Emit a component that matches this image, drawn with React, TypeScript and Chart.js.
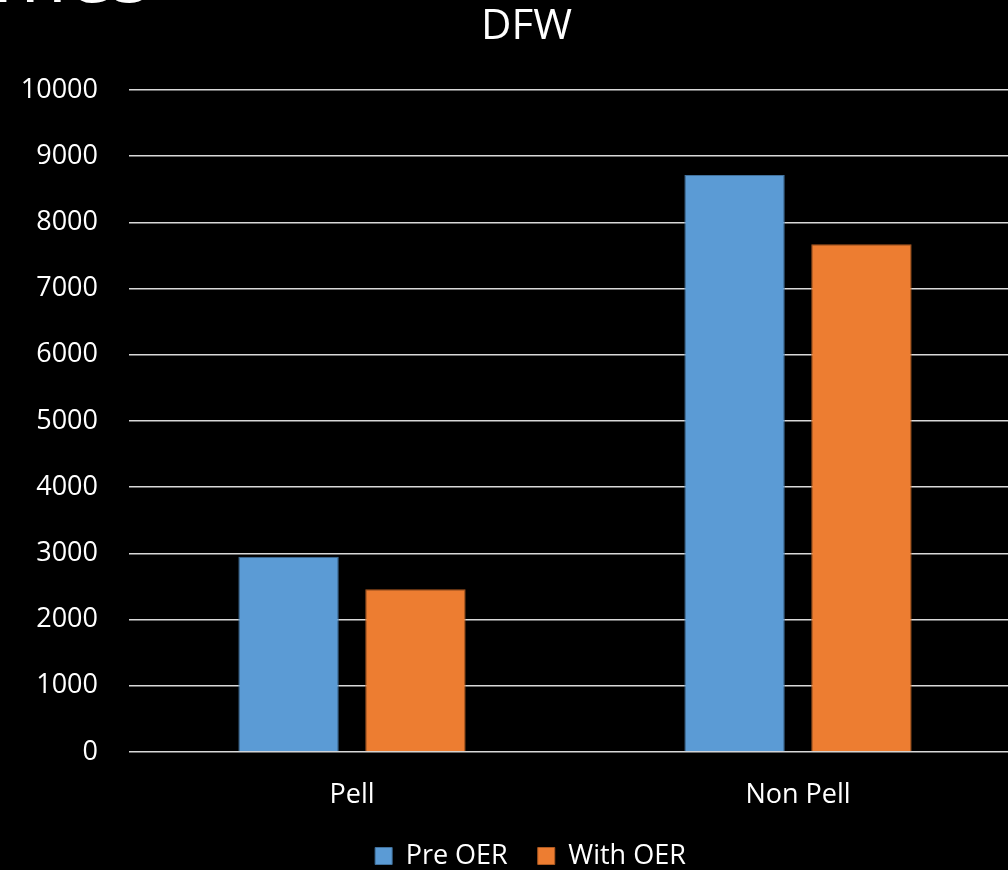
import React, { useEffect, useRef } from "react";
import { Chart, registerables } from "chart.js";

Chart.register(...registerables);

const categories = ["Pell", "Non Pell"];
const preOER = [2950, 8715];
const withOER = [2460, 7670];
const seriesNames = ["Pre OER", "With OER"];
const yTicks = [0, 1000, 2000, 3000, 4000, 5000, 6000, 7000, 8000, 9000, 10000];
const chartTitle = "DFW";
const slideTitleFragment = "Outcomes";

const FONT = "'Open Sans', 'Noto Sans', sans-serif";

// shifts the title and legend (the original chart was wider than the crop)
const shiftPlugin = {
  id: "shiftBoxes",
  afterLayout(chart: any) {
    const t = chart.titleBlock;
    if (t) {
      t.left += 16;
      t.right += 16;
    }
    const lg = chart.legend;
    if (lg) {
      const h = lg.height;
      lg.left += 20;
      lg.right += 20;
      lg.top = 812.5;
      lg.bottom = lg.top + h;
    }
  },
};

export default function App() {
  const ref = useRef<HTMLCanvasElement | null>(null);

  useEffect(() => {
    document.body.style.margin = "0";
    document.body.style.background = "#000";
    const canvas = ref.current;
    if (!canvas) return;
    const chart = new Chart(canvas, {
      type: "bar",
      data: {
        labels: categories,
        datasets: [
          {
            label: seriesNames[0],
            data: preOER,
            backgroundColor: "#5B9BD5",
            borderColor: "#41719C",
            borderWidth: 1,
            categoryPercentage: 0.569,
            barPercentage: 0.791,
          },
          {
            label: seriesNames[1],
            data: withOER,
            backgroundColor: "#ED7D31",
            borderColor: "#AE5A21",
            borderWidth: 1,
            categoryPercentage: 0.569,
            barPercentage: 0.791,
          },
        ],
      },
      plugins: [shiftPlugin],
      options: {
        responsive: false,
        animation: false,
        layout: { padding: { left: 0, right: 0, top: 0, bottom: 0 } },
        plugins: {
          title: {
            display: true,
            text: chartTitle,
            color: "#ffffff",
            font: { family: FONT, size: 42, weight: "normal" },
            padding: { top: 2, bottom: 37.6 },
          },
          legend: {
            display: true,
            position: "bottom",
            labels: {
              color: "#ffffff",
              font: { family: FONT, size: 27 },
              boxWidth: 17,
              boxHeight: 17,
              padding: 30,
            },
          },
          tooltip: { enabled: false },
        },
        scales: {
          x: {
            afterFit: (scale: any) => {
              scale.height = 51;
            },
            grid: { display: false, drawTicks: false },
            border: { display: false },
            ticks: {
              color: "#ffffff",
              font: { family: FONT, size: 27 },
              padding: 27,
            },
          },
          y: {
            min: 0,
            max: 10000,
            afterBuildTicks: (scale: any) => {
              scale.ticks = yTicks.map((v) => ({ value: v }));
            },
            afterFit: (scale: any) => {
              scale.width = 129;
            },
            grid: { color: "#d9d9d9", lineWidth: 1.5, drawTicks: false },
            border: { display: false },
            ticks: {
              color: "#ffffff",
              font: { family: FONT, size: 27 },
              padding: 31,
              callback: (v: any) => String(v),
            },
          },
        },
      },
    });
    return () => chart.destroy();
  }, []);

  return (
    <div
      style={{
        position: "fixed",
        left: 0,
        top: 0,
        width: 1008,
        height: 870,
        background: "#000",
        overflow: "hidden",
      }}
    >
      <div
        style={{
          position: "absolute",
          right: 858,
          top: -69,
          fontFamily: FONT,
          fontSize: 80,
          lineHeight: 1,
          color: "#fff",
          whiteSpace: "nowrap",
        }}
      >
        {slideTitleFragment}
      </div>
      <canvas ref={ref} width={1021} height={870} style={{ display: "block" }} />
    </div>
  );
}
